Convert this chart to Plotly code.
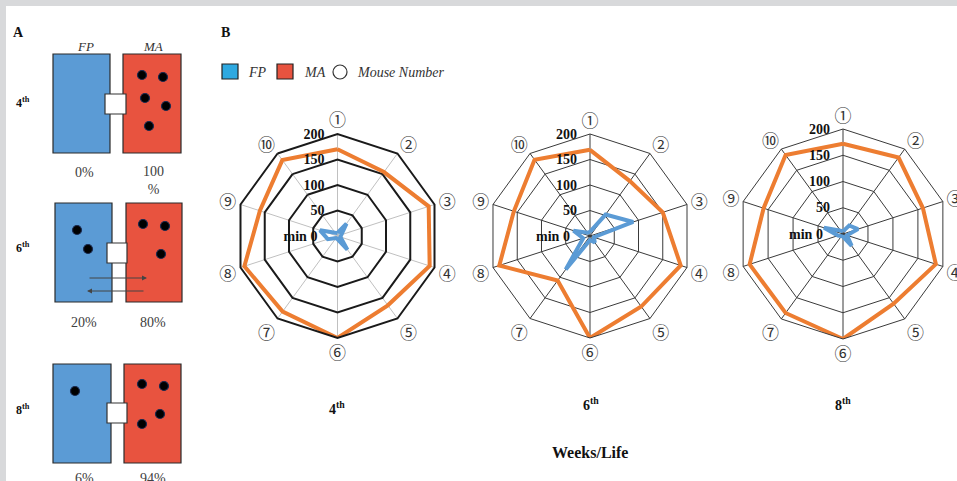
import plotly.graph_objects as go

# ---- data ---------------------------------------------------------------
MICE = ["\u2460", "\u2461", "\u2462", "\u2463", "\u2464",
        "\u2465", "\u2466", "\u2467", "\u2468", "\u2469"]
WEEKS = ["4<sup>th</sup>", "6<sup>th</sup>", "8<sup>th</sup>"]

# minutes spent in each compartment, per mouse
MA_WEEK4 = [170, 155, 188, 190, 168, 200, 183, 192, 160, 184]
FP_WEEK4 = [6, 30, 8, 6, 33, 6, 5, 20, 36, 8]
MA_WEEK6 = [169, 133, 150, 187, 171, 200, 108, 187, 157, 185]
FP_WEEK6 = [8, 52, 89, 8, 16, 8, 81, 14, 34, 8]
MA_WEEK8 = [172, 180, 160, 186, 164, 200, 186, 187, 159, 186]
FP_WEEK8 = [5, 20, 30, 8, 28, 5, 5, 10, 38, 8]

RING_VALUES = [0, 50, 100, 150, 200]
RING_LABELS = ["min 0", "50", "100", "150", "200"]

# panel A: share of time per compartment
PCT_FP = ["0%", "20%", "6%"]
PCT_MA = ["100<br>%", "80%", "94%"]

# ---- styling ------------------------------------------------------------
W, H = 957, 481
SERIF = "Liberation Serif, Times New Roman, serif"
ORANGE = "#ed7d31"
LINE_BLUE = "#5b9bd5"
BOX_BLUE = "#5b9bd5"
BOX_RED = "#e8533f"
LEG_BLUE = "#2ea9e1"
NBSP = "\u00a0"

# ring labels sit to the left of the vertical spoke; trailing padding keeps them clear of it
ring_text = [t + NBSP * (5 if v == 0 else 3) for t, v in zip(RING_LABELS, RING_VALUES)]


def px(x, y):
    return x / W, 1 - y / H


fig = go.Figure()

series = [(MA_WEEK4, FP_WEEK4), (MA_WEEK6, FP_WEEK6), (MA_WEEK8, FP_WEEK8)]
for i, (ma, fp) in enumerate(series):
    sub = "polar" if i == 0 else f"polar{i + 1}"
    for vals, col, name in ((ma, ORANGE, "MA"), (fp, LINE_BLUE, "FP")):
        fig.add_trace(go.Scatterpolar(
            r=vals + vals[:1], theta=MICE + MICE[:1], mode="lines",
            line=dict(color=col, width=4), subplot=sub, name=name,
            showlegend=False, hoverinfo="r+theta"))


def polar(cx, cy, rad, ring_col, ring_w, spoke_col):
    x0, y0 = (cx - rad) / W, 1 - (cy + rad) / H
    x1, y1 = (cx + rad) / W, 1 - (cy - rad) / H
    return dict(
        domain=dict(x=[x0, x1], y=[y0, y1]),
        gridshape="linear",
        bgcolor="rgba(0,0,0,0)",
        radialaxis=dict(range=[0, 200], tickvals=RING_VALUES, ticktext=ring_text,
                        angle=90, side="counterclockwise", showline=False,
                        gridcolor=ring_col, gridwidth=ring_w, ticks="", tickangle=90,
                        tickfont=dict(family=SERIF, size=14, color="#111", weight="bold")),
        angularaxis=dict(direction="clockwise", rotation=90, showline=True,
                         linecolor=ring_col, linewidth=ring_w, gridcolor=spoke_col,
                         gridwidth=1, ticks="",
                         tickfont=dict(family="Noto Sans CJK SC", size=17, color="#333")),
    )


fig.update_layout(
    width=W, height=H, margin=dict(l=0, r=0, t=0, b=0),
    paper_bgcolor="#d8d9db", plot_bgcolor="white",
    showlegend=False,
    polar=polar(337.5, 236, 102, "#1a1a1a", 2, "#c0c0c0"),
    polar2=polar(590, 236, 102, "#3a3a3a", 1, "#3a3a3a"),
    polar3=polar(843, 234, 105, "#3a3a3a", 1, "#3a3a3a"),
)

shapes = []
ann = []

# white page area
shapes.append(dict(type="rect", xref="paper", yref="paper", layer="below",
                   x0=6 / W, y0=0, x1=1, y1=1 - 6 / H,
                   fillcolor="white", line=dict(width=0)))


def rect(x0, y0, x1, y1, fill, lw=1.2, col="#2b2b2b"):
    a, b = px(x0, y0)
    c, d = px(x1, y1)
    shapes.append(dict(type="rect", xref="paper", yref="paper",
                       x0=a, y0=d, x1=c, y1=b, fillcolor=fill,
                       line=dict(color=col, width=lw)))


def dot(x, y, r=4.5, fill="black", edge="#1a2a50"):
    a, b = px(x - r, y - r)
    c, d = px(x + r, y + r)
    shapes.append(dict(type="circle", xref="paper", yref="paper",
                       x0=a, y0=d, x1=c, y1=b, fillcolor=fill,
                       line=dict(color=edge, width=1.2)))


def text(x, y, s, size=13, bold=False, italic=False, color="#111", xanchor="center"):
    a, b = px(x, y)
    ann.append(dict(xref="paper", yref="paper", x=a, y=b, text=s, showarrow=False,
                    xanchor=xanchor, yanchor="middle",
                    font=dict(family=SERIF, size=size, color=color,
                              weight="bold" if bold else "normal",
                              style="italic" if italic else "normal")))


# ---- panel A ------------------------------------------------------------
text(18, 32, "A", 14, bold=True)
text(85, 46, "FP", 13, italic=True, color="#333")
text(153, 46, "MA", 13, italic=True, color="#333")

cages = [
    dict(y=54, blue=(53, 110), red=(123, 181), door=(105, 126, 94, 114), label_y=102,
         fp_dots=[], ma_dots=[(142, 75), (163, 77), (145, 98), (166, 106), (149, 126)]),
    dict(y=203, blue=(55, 112), red=(126, 182), door=(107, 127, 243, 263), label_y=247,
         fp_dots=[(77, 230), (88, 249)], ma_dots=[(143, 224), (165, 226), (161, 254)]),
    dict(y=364, blue=(53, 111), red=(124, 181), door=(107, 127, 403, 423), label_y=409,
         fp_dots=[(75, 391)], ma_dots=[(142, 384), (164, 386), (160, 414), (142, 424)]),
]
pct_y = [173, 322, 478]

for k, c in enumerate(cages):
    top, bot = c["y"], c["y"] + 99
    rect(c["blue"][0], top, c["blue"][1], bot, BOX_BLUE)
    rect(c["red"][0], top, c["red"][1], bot, BOX_RED)
    dx0, dx1, dy0, dy1 = c["door"]
    rect(dx0, dy0, dx1, dy1, "white", lw=1.2, col="#333")
    for (x, y) in c["fp_dots"] + c["ma_dots"]:
        dot(x, y)
    text(14, c["label_y"], WEEKS[k], 12, bold=True, xanchor="left")
    text(84, pct_y[k], PCT_FP[k], 14, color="#404040")
    text(153, pct_y[k] + (8 if k == 0 else 0), PCT_MA[k], 14, color="#404040")

# movement arrows between compartments (week 6)
for (xs, xe, y) in ((88, 147, 278), (145, 87, 291)):
    a, b = px(xe, y)
    ann.append(dict(xref="paper", yref="paper", axref="pixel", ayref="pixel",
                    x=a, y=b, ax=xs - xe, ay=0, text="", showarrow=True,
                    arrowhead=2, arrowsize=1, arrowwidth=1, arrowcolor="#444"))

# ---- panel B ------------------------------------------------------------
text(225, 33, "B", 14, bold=True)
rect(222, 64, 238, 79, LEG_BLUE, lw=1.2, col="#222")
text(246, 72, "FP", 14, italic=True, color="#333", xanchor="left")
rect(277, 64, 293, 79, BOX_RED, lw=1.2, col="#222")
text(302, 72, "MA", 14, italic=True, color="#333", xanchor="left")
dot(340, 72, r=7, fill="white", edge="#333")
text(355, 72, "Mouse Number", 14, italic=True, color="#333", xanchor="left")

text(337, 408, WEEKS[0], 14, bold=True)
text(591, 404, WEEKS[1], 14, bold=True)
text(843, 404, WEEKS[2], 14, bold=True)
text(590, 452, "Weeks/Life", 16, bold=True)

fig.update_layout(shapes=shapes, annotations=ann)
fig.write_html("out.html")
